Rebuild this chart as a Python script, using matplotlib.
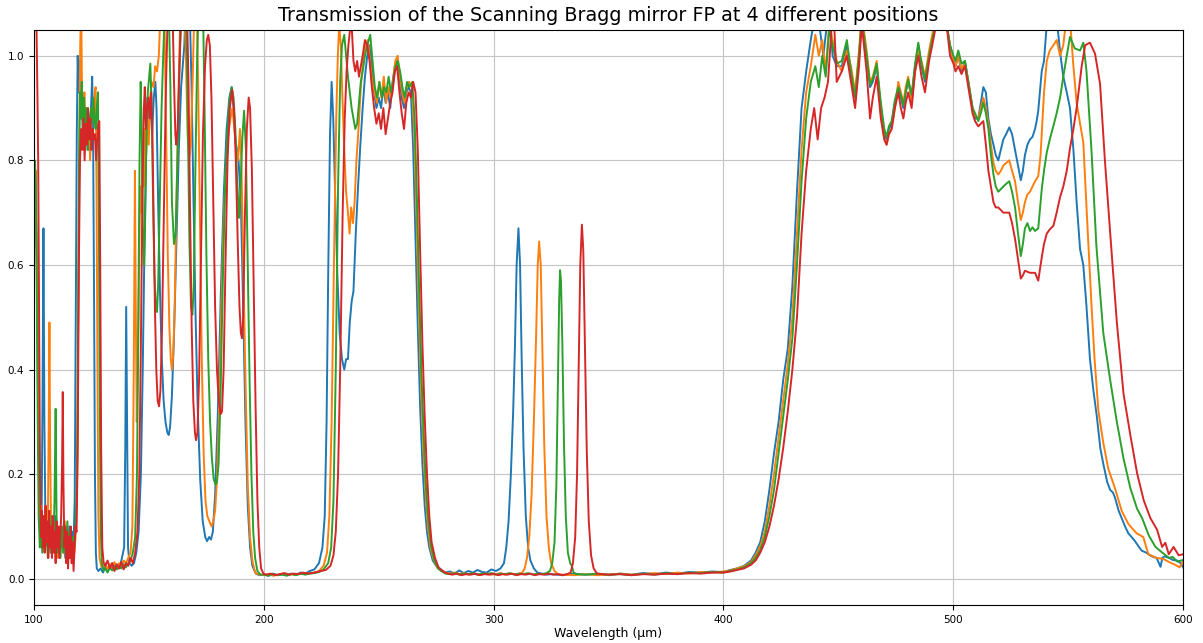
"""Transmission of the scanning Bragg-mirror Fabry-Perot at 4 positions."""
import matplotlib
matplotlib.use("Agg")
import matplotlib.pyplot as plt  # noqa: E402

TITLE = "Transmission of the Scanning Bragg mirror FP at 4 different positions"
XLABEL = "Wavelength (\u03bcm)"

# (wavelength, transmission); >1.05 is clipped by ylim
pos1 = [
    (100.0, 0.74), (100.4, 0.78), (100.8, 0.70), (101.2, 0.62), (101.6, 0.45), (102.0, 0.26),
    (102.4, 0.14), (102.8, 0.10), (103.3, 0.12), (103.7, 0.35), (104.1, 0.67), (104.5, 0.30),
    (104.9, 0.13), (105.4, 0.09), (105.9, 0.12), (106.4, 0.06), (107.0, 0.10), (107.5, 0.05),
    (108.1, 0.11), (108.7, 0.07), (109.3, 0.12), (109.9, 0.05), (110.5, 0.09), (111.1, 0.04),
    (111.8, 0.10), (112.4, 0.06), (113.0, 0.11), (113.6, 0.04), (114.2, 0.08), (114.8, 0.05),
    (115.4, 0.10), (116.0, 0.06), (116.6, 0.09), (117.2, 0.07), (117.7, 0.15), (118.1, 0.45),
    (118.6, 0.85), (119.0, 1.00), (119.4, 0.93), (119.8, 0.99), (120.3, 0.88), (120.8, 0.92),
    (121.3, 0.84), (121.8, 0.90), (122.3, 0.82), (122.8, 0.88), (123.3, 0.86), (123.8, 0.82),
    (124.3, 0.88), (124.8, 0.90), (125.3, 0.96), (125.7, 0.85), (126.1, 0.55), (126.5, 0.20),
    (126.9, 0.05), (127.3, 0.02), (128.0, 0.015), (129.0, 0.02), (130.0, 0.012), (131.0, 0.025),
    (132.0, 0.015), (133.0, 0.02), (134.0, 0.03), (135.0, 0.018), (136.0, 0.022), (137.0, 0.02),
    (138.0, 0.035), (139.2, 0.06), (139.7, 0.25), (140.1, 0.52), (140.5, 0.30), (140.9, 0.06),
    (141.5, 0.03), (142.5, 0.025), (143.5, 0.03), (144.5, 0.05), (145.5, 0.09), (146.5, 0.20),
    (147.3, 0.40), (148.0, 0.62), (148.7, 0.80), (149.3, 0.92), (150.0, 0.88), (150.7, 0.90),
    (151.4, 0.85), (152.1, 0.92), (152.8, 0.95), (153.3, 0.90), (154.0, 0.72), (154.8, 0.55),
    (155.6, 0.42), (156.4, 0.34), (157.2, 0.30), (158.0, 0.28), (158.6, 0.275), (159.2, 0.29),
    (160.0, 0.35), (161.0, 0.48), (162.0, 0.65), (163.0, 0.82), (164.0, 0.94), (164.7, 0.98),
    (165.4, 1.02), (166.0, 1.10), (167.0, 1.12), (167.8, 1.08), (168.5, 0.95), (169.3, 0.75),
    (170.2, 0.52), (171.2, 0.33), (172.3, 0.19), (173.4, 0.11), (174.5, 0.08), (175.3, 0.072),
    (176.2, 0.08), (177.0, 0.075), (177.8, 0.09), (178.8, 0.16), (180.0, 0.32), (181.3, 0.55),
    (182.6, 0.74), (183.8, 0.86), (185.0, 0.92), (186.0, 0.94), (186.8, 0.90), (187.6, 0.84),
    (188.3, 0.82), (189.0, 0.80), (190.0, 0.72), (191.0, 0.52), (192.0, 0.30), (193.0, 0.14),
    (194.0, 0.06), (195.0, 0.025), (196.5, 0.01), (198.0, 0.007), (200.0, 0.008), (202.0, 0.006),
    (204.0, 0.01), (206.0, 0.007), (208.0, 0.009), (210.0, 0.008), (212.0, 0.01), (214.0, 0.008),
    (216.0, 0.012), (218.0, 0.01), (220.0, 0.015), (222.0, 0.018), (224.0, 0.03), (225.5, 0.06),
    (226.5, 0.12), (227.3, 0.30), (228.0, 0.58), (228.8, 0.85), (229.5, 0.95), (230.2, 0.88),
    (231.0, 0.74), (232.0, 0.58), (233.0, 0.47), (234.0, 0.42), (235.0, 0.40), (235.8, 0.42),
    (236.6, 0.42), (237.4, 0.49), (238.2, 0.53), (239.0, 0.55), (240.0, 0.66), (241.0, 0.75),
    (242.0, 0.83), (243.0, 0.90), (244.0, 0.96), (245.0, 1.00), (246.0, 1.02), (247.0, 0.98),
    (248.0, 0.93), (249.0, 0.90), (250.0, 0.92), (251.0, 0.90), (252.0, 0.94), (253.0, 0.91),
    (254.0, 0.93), (255.0, 0.90), (256.0, 0.95), (257.0, 0.98), (258.0, 0.99), (259.0, 0.96),
    (260.0, 0.92), (261.0, 0.90), (262.0, 0.93), (263.0, 0.94), (264.0, 0.93), (265.0, 0.82),
    (266.0, 0.65), (267.0, 0.48), (268.0, 0.33), (269.0, 0.22), (270.0, 0.14), (271.0, 0.09),
    (272.0, 0.06), (273.5, 0.035), (275.0, 0.025), (277.0, 0.018), (279.0, 0.012), (281.0, 0.014),
    (283.0, 0.01), (285.0, 0.016), (287.0, 0.011), (289.0, 0.015), (291.0, 0.012), (293.0, 0.017),
    (295.0, 0.013), (297.0, 0.012), (299.0, 0.018), (301.0, 0.015), (303.0, 0.02), (304.5, 0.03),
    (305.5, 0.06), (306.5, 0.11), (307.5, 0.20), (308.5, 0.32), (309.3, 0.45), (310.0, 0.60),
    (310.8, 0.67), (311.5, 0.60), (312.2, 0.42), (313.0, 0.25), (314.0, 0.12), (315.0, 0.06),
    (316.0, 0.035), (317.5, 0.02), (319.0, 0.012), (321.0, 0.01), (323.0, 0.008), (325.0, 0.009),
    (330.0, 0.007), (335.0, 0.01), (340.0, 0.008), (345.0, 0.009), (350.0, 0.007), (355.0, 0.01),
    (360.0, 0.008), (365.0, 0.011), (370.0, 0.009), (375.0, 0.012), (380.0, 0.01), (385.0, 0.013),
    (390.0, 0.012), (395.0, 0.014), (400.0, 0.013), (403.0, 0.017), (406.0, 0.02), (409.0, 0.025),
    (412.0, 0.035), (414.0, 0.05), (416.0, 0.07), (418.0, 0.11), (420.0, 0.17), (422.0, 0.24),
    (424.0, 0.30), (426.0, 0.38), (428.0, 0.44), (430.0, 0.56), (432.0, 0.74), (434.0, 0.90),
    (436.0, 0.97), (438.0, 1.03), (440.0, 1.08), (442.0, 1.05), (443.5, 1.00), (445.0, 1.06),
    (446.4, 1.07), (447.5, 1.00), (449.3, 0.98), (451.5, 0.98), (453.7, 1.02), (455.5, 0.97),
    (457.3, 0.92), (459.0, 1.00), (460.2, 1.07), (462.3, 1.00), (463.8, 0.94), (465.0, 0.95),
    (466.7, 0.98), (468.5, 0.90), (470.0, 0.85), (471.0, 0.84), (472.0, 0.86), (473.2, 0.87),
    (474.6, 0.91), (476.1, 0.94), (477.2, 0.92), (478.3, 0.90), (479.3, 0.93), (480.4, 0.95),
    (481.9, 0.92), (483.4, 0.98), (484.8, 1.02), (486.2, 0.98), (487.7, 0.95), (489.5, 1.00),
    (491.3, 1.04), (493.0, 1.07), (495.0, 1.09), (497.1, 1.06), (498.6, 1.02), (500.1, 0.99),
    (501.0, 0.98), (502.2, 1.00), (503.6, 0.97), (505.1, 0.99), (506.2, 0.96), (507.3, 0.93),
    (508.4, 0.90), (509.5, 0.88), (510.9, 0.88), (512.0, 0.91), (513.1, 0.94), (514.2, 0.93),
    (515.3, 0.88), (516.4, 0.85), (517.5, 0.83), (518.5, 0.81), (519.6, 0.80), (520.7, 0.82),
    (521.8, 0.84), (523.0, 0.85), (524.4, 0.863), (525.6, 0.85), (526.9, 0.82), (528.2, 0.79),
    (529.4, 0.762), (530.3, 0.78), (531.2, 0.81), (532.3, 0.83), (533.4, 0.84), (534.5, 0.845),
    (535.6, 0.86), (536.3, 0.875), (537.0, 0.895), (538.5, 0.97), (539.5, 0.99), (540.7, 1.06),
    (542.0, 1.10), (544.0, 1.10), (545.5, 1.05), (546.7, 1.00), (547.9, 0.96), (549.4, 0.93),
    (550.8, 0.90), (552.3, 0.82), (553.7, 0.72), (555.2, 0.63), (556.6, 0.60), (558.0, 0.52),
    (559.5, 0.42), (561.0, 0.36), (562.5, 0.31), (564.0, 0.25), (565.3, 0.22), (567.0, 0.185),
    (568.3, 0.17), (569.5, 0.165), (570.4, 0.155), (572.0, 0.13), (573.3, 0.116), (574.8, 0.10),
    (576.2, 0.087), (578.0, 0.078), (579.1, 0.072), (580.5, 0.063), (582.0, 0.054), (584.0, 0.05),
    (586.4, 0.043), (588.5, 0.04), (589.5, 0.03), (590.2, 0.023), (591.0, 0.04), (592.0, 0.043),
    (594.0, 0.04), (595.6, 0.036), (597.5, 0.035), (599.0, 0.03), (600.0, 0.022),
]

pos2 = [
    (100.0, 0.80), (100.4, 0.76), (100.8, 0.78), (101.2, 0.58), (101.6, 0.40), (102.0, 0.22),
    (102.5, 0.12), (103.0, 0.14), (103.6, 0.09), (104.2, 0.12), (104.8, 0.08), (105.4, 0.13),
    (106.0, 0.10), (106.4, 0.30), (106.7, 0.49), (107.0, 0.25), (107.4, 0.10), (108.0, 0.06),
    (108.6, 0.11), (109.2, 0.05), (109.8, 0.09), (110.4, 0.04), (111.0, 0.10), (111.6, 0.06),
    (112.2, 0.09), (112.8, 0.05), (113.4, 0.11), (114.0, 0.04), (114.6, 0.08), (115.2, 0.05),
    (115.8, 0.09), (116.4, 0.03), (117.0, 0.07), (117.6, 0.05), (118.2, 0.09), (118.8, 0.20),
    (119.3, 0.55), (119.7, 0.85), (120.1, 1.02), (120.5, 1.10), (120.9, 0.92), (121.4, 0.88),
    (121.9, 0.93), (122.4, 0.85), (122.9, 0.90), (123.4, 0.84), (123.9, 0.88), (124.4, 0.80),
    (124.9, 0.86), (125.4, 0.90), (125.9, 0.88), (126.4, 0.93), (126.8, 0.94), (127.2, 0.75),
    (127.6, 0.40), (128.0, 0.12), (128.5, 0.04), (129.2, 0.025), (130.0, 0.02), (131.0, 0.03),
    (132.0, 0.018), (133.0, 0.028), (134.0, 0.02), (135.0, 0.032), (136.0, 0.022), (137.0, 0.03),
    (138.0, 0.025), (139.0, 0.035), (140.0, 0.03), (141.0, 0.04), (142.0, 0.05), (142.8, 0.10),
    (143.4, 0.40), (143.9, 0.78), (144.3, 0.50), (144.7, 0.30), (145.2, 0.42), (145.7, 0.60),
    (146.2, 0.75), (146.7, 0.70), (147.2, 0.82), (147.7, 0.75), (148.2, 0.86), (148.7, 0.80),
    (149.3, 0.88), (149.9, 0.83), (150.5, 0.92), (151.2, 0.95), (152.0, 0.94), (152.7, 0.98),
    (153.5, 0.97), (154.3, 1.00), (155.0, 1.08), (156.0, 1.10), (156.8, 1.06), (157.5, 0.85),
    (158.2, 0.62), (158.9, 0.48), (159.5, 0.42), (160.0, 0.40), (160.6, 0.43), (161.2, 0.52),
    (162.0, 0.72), (162.8, 0.92), (163.5, 1.05), (164.2, 1.10), (165.2, 1.10), (166.0, 1.02),
    (166.8, 0.85), (167.5, 0.80), (168.2, 0.83), (169.0, 0.95), (169.8, 1.10), (170.8, 1.10),
    (171.4, 0.95), (172.2, 0.68), (173.0, 0.42), (173.8, 0.24), (174.6, 0.15), (175.4, 0.12),
    (176.3, 0.11), (177.3, 0.10), (178.0, 0.11), (178.8, 0.13), (179.6, 0.19), (180.5, 0.32),
    (181.5, 0.52), (182.5, 0.68), (183.5, 0.79), (184.5, 0.85), (185.5, 0.88), (186.3, 0.90),
    (187.2, 0.86), (188.0, 0.82), (188.8, 0.80), (189.6, 0.86), (190.2, 0.80), (191.0, 0.62),
    (192.0, 0.38), (193.0, 0.18), (194.0, 0.08), (195.0, 0.035), (196.2, 0.012), (198.0, 0.008),
    (200.0, 0.007), (202.0, 0.009), (204.0, 0.006), (206.0, 0.008), (208.0, 0.01), (210.0, 0.007),
    (212.0, 0.009), (214.0, 0.008), (216.0, 0.01), (218.0, 0.009), (220.0, 0.011), (222.0, 0.012),
    (224.0, 0.015), (226.0, 0.025), (227.5, 0.05), (228.5, 0.12), (229.5, 0.30), (230.5, 0.60),
    (231.5, 0.88), (232.2, 1.00), (232.8, 1.06), (233.5, 1.02), (234.2, 0.92), (235.0, 0.82),
    (235.8, 0.74), (236.6, 0.70), (237.3, 0.66), (238.0, 0.71), (238.8, 0.68), (239.5, 0.72),
    (240.3, 0.80), (241.2, 0.86), (242.2, 0.94), (243.2, 0.99), (244.2, 1.02), (245.2, 1.03),
    (246.2, 0.99), (247.2, 0.95), (248.2, 0.93), (249.2, 0.91), (250.2, 0.95), (251.2, 0.92),
    (252.2, 0.96), (253.2, 0.91), (254.2, 0.94), (255.2, 0.92), (256.2, 0.95), (257.2, 0.99),
    (258.2, 1.00), (259.2, 0.96), (260.2, 0.93), (261.2, 0.91), (262.2, 0.94), (263.2, 0.95),
    (264.4, 0.94), (265.4, 0.86), (266.4, 0.70), (267.4, 0.52), (268.4, 0.37), (269.4, 0.25),
    (270.4, 0.16), (271.4, 0.10), (272.5, 0.06), (274.0, 0.035), (275.5, 0.022), (277.0, 0.016),
    (279.0, 0.012), (281.0, 0.01), (283.0, 0.012), (285.0, 0.009), (287.0, 0.011), (289.0, 0.008),
    (291.0, 0.01), (293.0, 0.008), (295.0, 0.009), (297.0, 0.01), (299.0, 0.008), (301.0, 0.009),
    (303.0, 0.011), (305.0, 0.008), (307.0, 0.01), (309.0, 0.009), (311.0, 0.01), (312.5, 0.012),
    (313.5, 0.02), (314.5, 0.04), (315.5, 0.08), (316.5, 0.16), (317.5, 0.30), (318.4, 0.45),
    (319.2, 0.60), (319.8, 0.645), (320.5, 0.60), (321.2, 0.44), (322.0, 0.26), (323.0, 0.12),
    (324.0, 0.06), (325.0, 0.03), (326.5, 0.015), (328.0, 0.009), (330.0, 0.008), (335.0, 0.007),
    (340.0, 0.009), (345.0, 0.007), (350.0, 0.008), (355.0, 0.01), (360.0, 0.008), (365.0, 0.009),
    (370.0, 0.011), (375.0, 0.009), (380.0, 0.012), (385.0, 0.01), (390.0, 0.013), (395.0, 0.012),
    (400.0, 0.014), (403.0, 0.016), (406.0, 0.02), (409.0, 0.024), (412.0, 0.032), (414.0, 0.045),
    (416.0, 0.062), (418.0, 0.09), (420.0, 0.14), (422.0, 0.20), (424.0, 0.27), (426.0, 0.34),
    (428.0, 0.41), (430.0, 0.50), (432.0, 0.66), (434.0, 0.82), (436.0, 0.93), (438.0, 0.98),
    (440.0, 1.04), (441.5, 1.00), (443.0, 1.03), (444.5, 0.97), (446.0, 1.06), (447.5, 1.03),
    (449.3, 0.99), (451.5, 0.97), (453.7, 1.01), (455.5, 0.98), (457.3, 0.93), (459.0, 1.01),
    (460.2, 1.08), (462.3, 1.01), (463.8, 0.95), (465.0, 0.96), (466.7, 0.99), (468.5, 0.89),
    (470.0, 0.84), (471.0, 0.83), (472.0, 0.85), (473.2, 0.86), (474.6, 0.90), (476.1, 0.95),
    (477.2, 0.93), (478.3, 0.91), (479.3, 0.94), (480.4, 0.96), (481.9, 0.91), (483.4, 0.97),
    (484.8, 1.01), (486.2, 0.99), (487.7, 0.96), (489.5, 1.01), (491.3, 1.05), (493.0, 1.08),
    (495.0, 1.09), (497.1, 1.06), (498.6, 1.02), (500.1, 0.99), (501.0, 0.98), (502.2, 1.00),
    (503.6, 0.975), (505.1, 0.985), (506.2, 0.96), (507.3, 0.93), (508.4, 0.90), (509.5, 0.885),
    (510.9, 0.88), (512.0, 0.90), (513.1, 0.92), (514.2, 0.90), (515.3, 0.87), (516.4, 0.83),
    (517.5, 0.795), (518.5, 0.78), (519.6, 0.773), (520.7, 0.78), (521.8, 0.79), (523.0, 0.795),
    (524.4, 0.80), (525.6, 0.78), (526.9, 0.76), (528.2, 0.72), (529.4, 0.686), (530.3, 0.70),
    (531.2, 0.72), (532.3, 0.735), (533.4, 0.74), (534.5, 0.75), (535.6, 0.76), (537.0, 0.77),
    (538.0, 0.81), (538.5, 0.85), (539.5, 0.93), (540.7, 0.99), (542.0, 1.01), (543.6, 1.02),
    (545.0, 1.03), (546.5, 1.00), (547.9, 1.02), (549.4, 1.08), (550.8, 1.07), (552.3, 0.98),
    (553.7, 0.91), (555.2, 0.87), (556.6, 0.835), (558.0, 0.71), (560.2, 0.52), (561.5, 0.42),
    (563.2, 0.32), (565.3, 0.26), (567.5, 0.21), (570.4, 0.173), (573.3, 0.13), (576.2, 0.105),
    (579.8, 0.087), (582.7, 0.08), (584.9, 0.047), (588.5, 0.04), (591.4, 0.038), (594.0, 0.032),
    (596.5, 0.027), (598.5, 0.022), (600.0, 0.033),
]

pos3 = [
    (100.0, 0.78), (100.4, 0.80), (100.8, 0.75), (101.2, 0.55), (101.6, 0.30), (102.0, 0.12),
    (102.5, 0.06), (103.0, 0.09), (103.6, 0.05), (104.2, 0.11), (104.8, 0.06), (105.4, 0.09),
    (106.0, 0.04), (106.6, 0.10), (107.2, 0.05), (107.8, 0.12), (108.4, 0.06), (108.9, 0.15),
    (109.4, 0.325), (109.8, 0.12), (110.3, 0.05), (110.9, 0.09), (111.5, 0.04), (112.1, 0.10),
    (112.7, 0.05), (113.3, 0.08), (113.9, 0.04), (114.5, 0.11), (115.1, 0.05), (115.7, 0.09),
    (116.3, 0.04), (116.9, 0.08), (117.5, 0.06), (118.1, 0.10), (118.7, 0.20), (119.2, 0.50),
    (119.6, 0.80), (120.0, 0.93), (120.4, 0.88), (120.8, 0.95), (121.3, 0.85), (121.8, 0.92),
    (122.3, 0.84), (122.8, 0.90), (123.3, 0.82), (123.8, 0.88), (124.3, 0.85), (124.8, 0.90),
    (125.3, 0.87), (125.8, 0.92), (126.3, 0.88), (126.8, 0.86), (127.3, 0.90), (127.8, 0.93),
    (128.2, 0.70), (128.6, 0.35), (129.0, 0.10), (129.5, 0.03), (130.2, 0.015), (131.0, 0.02),
    (132.0, 0.012), (133.0, 0.022), (134.0, 0.016), (135.0, 0.025), (136.0, 0.018), (137.0, 0.022),
    (138.0, 0.02), (139.0, 0.028), (140.0, 0.022), (141.0, 0.03), (142.0, 0.035), (143.0, 0.05),
    (144.0, 0.08), (144.8, 0.20), (145.4, 0.50), (145.9, 0.80), (146.4, 0.95), (146.9, 0.85),
    (147.4, 0.65), (147.9, 0.60), (148.4, 0.70), (148.9, 0.84), (149.5, 0.93), (150.1, 0.96),
    (150.6, 0.985), (151.2, 0.90), (151.8, 0.72), (152.4, 0.58), (153.0, 0.52), (153.5, 0.51),
    (154.0, 0.56), (154.7, 0.72), (155.5, 0.90), (156.2, 1.00), (157.0, 1.10), (158.5, 1.12),
    (159.3, 0.95), (160.0, 0.72), (160.9, 0.64), (161.6, 0.66), (162.4, 0.80), (163.3, 0.98),
    (164.3, 1.10), (166.0, 1.12), (166.8, 0.92), (167.6, 0.65), (168.3, 0.52), (168.9, 0.505),
    (169.5, 0.56), (170.2, 0.78), (171.0, 1.00), (171.6, 1.10), (173.5, 1.10), (174.2, 0.90),
    (175.0, 0.62), (175.8, 0.42), (176.6, 0.30), (177.4, 0.23), (178.2, 0.19), (179.0, 0.18),
    (179.6, 0.185), (180.3, 0.22), (181.2, 0.36), (182.2, 0.58), (183.2, 0.76), (184.2, 0.86),
    (185.2, 0.92), (186.0, 0.94), (186.8, 0.92), (187.6, 0.86), (188.4, 0.76), (189.2, 0.69),
    (189.8, 0.74), (190.6, 0.84), (191.4, 0.895), (192.2, 0.82), (193.0, 0.60), (193.8, 0.38),
    (194.6, 0.20), (195.4, 0.09), (196.2, 0.04), (197.2, 0.015), (198.5, 0.008), (200.0, 0.008),
    (202.0, 0.006), (204.0, 0.009), (206.0, 0.007), (208.0, 0.008), (210.0, 0.006), (212.0, 0.009),
    (214.0, 0.007), (216.0, 0.01), (218.0, 0.008), (220.0, 0.01), (222.0, 0.011), (224.0, 0.013),
    (226.0, 0.018), (228.0, 0.03), (229.3, 0.06), (230.3, 0.15), (231.3, 0.40), (232.3, 0.75),
    (233.2, 0.95), (234.0, 1.02), (235.0, 1.04), (235.8, 1.00), (236.6, 0.96), (237.4, 0.93),
    (238.2, 0.90), (239.0, 0.88), (239.8, 0.86), (240.6, 0.87), (241.4, 0.91), (242.2, 0.95),
    (243.0, 0.97), (244.0, 1.00), (245.0, 1.02), (246.3, 1.04), (247.3, 0.99), (248.3, 0.94),
    (249.3, 0.92), (250.3, 0.95), (251.3, 0.92), (252.3, 0.94), (253.3, 0.93), (254.3, 0.96),
    (255.3, 0.93), (256.3, 0.95), (257.3, 0.98), (258.3, 0.99), (259.3, 0.97), (260.3, 0.94),
    (261.3, 0.92), (262.3, 0.95), (263.3, 0.94), (264.6, 0.95), (265.6, 0.88), (266.6, 0.73),
    (267.6, 0.55), (268.6, 0.39), (269.6, 0.27), (270.6, 0.17), (271.6, 0.11), (272.7, 0.065),
    (274.2, 0.035), (275.7, 0.02), (277.2, 0.015), (279.0, 0.01), (281.0, 0.009), (283.0, 0.011),
    (285.0, 0.008), (287.0, 0.01), (289.0, 0.009), (291.0, 0.011), (293.0, 0.008), (295.0, 0.01),
    (297.0, 0.009), (299.0, 0.011), (301.0, 0.008), (303.0, 0.01), (305.0, 0.009), (307.0, 0.011),
    (309.0, 0.008), (311.0, 0.01), (313.0, 0.009), (315.0, 0.011), (317.0, 0.008), (319.0, 0.01),
    (321.0, 0.009), (323.0, 0.011), (324.5, 0.015), (325.5, 0.03), (326.5, 0.07), (327.3, 0.18),
    (328.0, 0.38), (328.5, 0.53), (328.9, 0.59), (329.3, 0.57), (329.9, 0.45), (330.6, 0.26),
    (331.4, 0.12), (332.3, 0.05), (333.3, 0.03), (334.0, 0.025), (334.8, 0.012), (336.0, 0.009),
    (340.0, 0.008), (345.0, 0.01), (350.0, 0.008), (355.0, 0.009), (360.0, 0.007), (365.0, 0.01),
    (370.0, 0.008), (375.0, 0.011), (380.0, 0.009), (385.0, 0.012), (390.0, 0.011), (395.0, 0.013),
    (400.0, 0.012), (403.0, 0.015), (406.0, 0.018), (409.0, 0.022), (412.0, 0.03), (414.0, 0.04),
    (416.0, 0.055), (418.0, 0.08), (420.0, 0.12), (422.0, 0.17), (424.0, 0.24), (426.0, 0.31),
    (428.0, 0.38), (430.0, 0.46), (432.0, 0.60), (434.0, 0.76), (436.0, 0.88), (438.0, 0.95),
    (440.0, 0.98), (441.5, 0.94), (443.0, 1.00), (444.5, 0.96), (446.0, 1.05), (447.5, 1.02),
    (449.3, 0.985), (451.5, 0.99), (453.7, 1.03), (455.5, 0.97), (457.3, 0.92), (459.0, 1.00),
    (460.2, 1.07), (462.3, 1.00), (463.8, 0.945), (465.0, 0.955), (466.7, 0.985), (468.5, 0.91),
    (470.0, 0.86), (471.0, 0.845), (472.0, 0.865), (473.2, 0.875), (474.6, 0.915), (476.1, 0.94),
    (477.2, 0.925), (478.3, 0.905), (479.3, 0.93), (480.4, 0.955), (481.9, 0.925), (483.4, 0.985),
    (484.8, 1.025), (486.2, 0.985), (487.7, 0.955), (489.5, 1.00), (491.3, 1.04), (493.0, 1.07),
    (495.0, 1.09), (497.1, 1.06), (498.6, 1.02), (500.1, 1.00), (501.0, 0.99), (502.2, 1.01),
    (503.6, 0.985), (505.1, 0.99), (506.2, 0.96), (507.3, 0.93), (508.4, 0.90), (509.5, 0.89),
    (510.9, 0.875), (512.0, 0.89), (513.1, 0.91), (514.2, 0.89), (515.3, 0.86), (516.4, 0.81),
    (517.5, 0.773), (518.5, 0.75), (519.6, 0.74), (520.7, 0.745), (521.8, 0.75), (523.0, 0.755),
    (524.4, 0.76), (525.6, 0.74), (526.9, 0.71), (528.2, 0.66), (529.4, 0.617), (530.3, 0.64),
    (531.2, 0.67), (532.3, 0.68), (533.4, 0.665), (534.5, 0.672), (535.6, 0.665), (537.0, 0.67),
    (538.5, 0.744), (539.5, 0.78), (540.7, 0.815), (542.0, 0.84), (543.6, 0.866), (545.0, 0.89),
    (546.5, 0.92), (547.9, 0.96), (549.4, 1.00), (550.8, 1.036), (552.9, 1.014), (555.2, 1.01),
    (556.6, 1.025), (558.0, 0.97), (560.2, 0.816), (562.3, 0.636), (565.3, 0.47), (568.3, 0.38),
    (571.2, 0.30), (574.1, 0.23), (577.1, 0.173), (580.0, 0.134), (582.2, 0.116), (585.1, 0.083),
    (588.0, 0.061), (591.0, 0.05), (593.9, 0.04), (595.5, 0.042), (597.5, 0.033), (600.0, 0.036),
]

pos4 = [
    (100.0, 1.10), (100.5, 1.10), (101.0, 1.08), (101.4, 0.95), (101.8, 0.80), (102.2, 0.50),
    (102.6, 0.20), (103.0, 0.08), (103.4, 0.13), (103.8, 0.06), (104.2, 0.12), (104.6, 0.05),
    (105.0, 0.14), (105.4, 0.07), (105.8, 0.11), (106.2, 0.04), (106.6, 0.13), (107.0, 0.06),
    (107.4, 0.10), (107.8, 0.04), (108.2, 0.12), (108.6, 0.05), (109.0, 0.09), (109.4, 0.03),
    (109.8, 0.11), (110.2, 0.06), (110.6, 0.10), (111.0, 0.04), (111.4, 0.08), (111.8, 0.12),
    (112.2, 0.22), (112.5, 0.357), (112.8, 0.18), (113.2, 0.06), (113.6, 0.10), (114.0, 0.03),
    (114.4, 0.09), (114.8, 0.02), (115.2, 0.08), (115.6, 0.04), (116.0, 0.10), (116.4, 0.03),
    (116.8, 0.07), (117.2, 0.015), (117.6, 0.06), (118.0, 0.10), (118.5, 0.09), (119.0, 0.25),
    (119.5, 0.60), (120.0, 0.80), (120.5, 0.86), (121.0, 0.82), (121.5, 0.88), (122.0, 0.80),
    (122.5, 0.87), (123.0, 0.83), (123.5, 0.90), (124.0, 0.84), (124.5, 0.88), (125.0, 0.82),
    (125.5, 0.86), (126.0, 0.84), (126.5, 0.85), (127.0, 0.80), (127.5, 0.84), (128.0, 0.87),
    (128.4, 0.875), (128.8, 0.60), (129.2, 0.25), (129.7, 0.06), (130.3, 0.03), (131.0, 0.025),
    (132.0, 0.035), (133.0, 0.02), (134.0, 0.03), (135.0, 0.015), (136.0, 0.028), (137.0, 0.02),
    (138.0, 0.032), (139.0, 0.018), (140.0, 0.03), (141.0, 0.025), (142.0, 0.04), (143.0, 0.03),
    (144.0, 0.05), (145.0, 0.09), (145.8, 0.20), (146.5, 0.45), (147.2, 0.75), (147.8, 0.90),
    (148.2, 0.94), (148.7, 0.86), (149.2, 0.90), (149.8, 0.92), (150.4, 0.88), (151.0, 0.93),
    (151.5, 0.85), (152.0, 0.70), (152.6, 0.52), (153.2, 0.40), (153.8, 0.34), (154.4, 0.33),
    (155.0, 0.36), (155.7, 0.48), (156.5, 0.70), (157.3, 0.92), (158.0, 1.05), (158.7, 1.10),
    (160.2, 1.10), (160.9, 0.95), (161.5, 0.85), (161.9, 0.83), (162.5, 0.86), (163.3, 0.98),
    (164.0, 1.10), (166.5, 1.10), (167.2, 0.95), (167.9, 0.70), (168.6, 0.48), (169.3, 0.34),
    (170.0, 0.28), (170.5, 0.265), (171.1, 0.28), (171.8, 0.38), (172.6, 0.60), (173.5, 0.85),
    (174.4, 0.98), (175.2, 1.03), (175.8, 1.04), (176.5, 1.02), (177.2, 0.92), (178.0, 0.72),
    (178.8, 0.52), (179.6, 0.40), (180.4, 0.34), (181.2, 0.315), (181.8, 0.32), (182.5, 0.40),
    (183.3, 0.60), (184.2, 0.80), (185.2, 0.90), (186.2, 0.935), (187.0, 0.90), (187.8, 0.80),
    (188.6, 0.65), (189.4, 0.52), (190.0, 0.47), (190.5, 0.46), (191.0, 0.50), (191.8, 0.70),
    (192.6, 0.86), (193.4, 0.92), (194.0, 0.90), (194.8, 0.78), (195.6, 0.56), (196.4, 0.33),
    (197.2, 0.15), (198.0, 0.06), (198.8, 0.02), (199.8, 0.01), (201.0, 0.008), (203.0, 0.01),
    (205.0, 0.007), (207.0, 0.009), (209.0, 0.011), (211.0, 0.008), (213.0, 0.01), (215.0, 0.009),
    (217.0, 0.012), (219.0, 0.01), (221.0, 0.011), (223.0, 0.013), (225.0, 0.015), (227.0, 0.017),
    (229.0, 0.025), (230.3, 0.045), (231.3, 0.09), (232.3, 0.20), (233.3, 0.42), (234.3, 0.70),
    (235.2, 0.88), (236.0, 0.97), (236.8, 1.02), (237.5, 1.05), (238.2, 1.06), (239.0, 0.99),
    (239.8, 0.97), (240.6, 0.99), (241.4, 0.96), (242.2, 0.98), (243.0, 1.00), (244.0, 1.03),
    (245.0, 1.02), (246.0, 0.99), (247.0, 0.94), (248.0, 0.90), (249.0, 0.87), (250.0, 0.89),
    (251.0, 0.86), (252.0, 0.90), (253.0, 0.85), (254.0, 0.88), (255.0, 0.91), (256.0, 0.93),
    (257.0, 0.97), (258.0, 0.98), (259.0, 0.93), (260.0, 0.89), (261.0, 0.86), (262.0, 0.91),
    (263.0, 0.93), (264.0, 0.92), (265.0, 0.95), (266.0, 0.93), (267.0, 0.82), (268.0, 0.63),
    (269.0, 0.45), (270.0, 0.31), (271.0, 0.20), (272.0, 0.12), (273.0, 0.07), (274.5, 0.04),
    (276.0, 0.022), (278.0, 0.014), (280.0, 0.01), (282.0, 0.008), (284.0, 0.01), (286.0, 0.007),
    (288.0, 0.009), (290.0, 0.008), (292.0, 0.01), (294.0, 0.007), (296.0, 0.009), (298.0, 0.008),
    (300.0, 0.01), (302.0, 0.007), (304.0, 0.009), (306.0, 0.008), (308.0, 0.01), (310.0, 0.007),
    (312.0, 0.009), (314.0, 0.008), (316.0, 0.01), (318.0, 0.007), (320.0, 0.009), (322.0, 0.008),
    (324.0, 0.01), (326.0, 0.008), (328.0, 0.009), (330.0, 0.007), (332.0, 0.009), (333.5, 0.012),
    (334.5, 0.03), (335.5, 0.08), (336.3, 0.20), (337.0, 0.40), (337.7, 0.60), (338.4, 0.677),
    (339.0, 0.63), (339.7, 0.45), (340.5, 0.25), (341.4, 0.11), (342.4, 0.045), (343.5, 0.02),
    (345.0, 0.01), (350.0, 0.008), (355.0, 0.009), (360.0, 0.007), (365.0, 0.009), (370.0, 0.008),
    (375.0, 0.01), (380.0, 0.009), (385.0, 0.011), (390.0, 0.01), (395.0, 0.012), (400.0, 0.012),
    (403.0, 0.014), (406.0, 0.017), (409.0, 0.02), (412.0, 0.027), (414.0, 0.035), (416.0, 0.05),
    (418.0, 0.07), (420.0, 0.10), (422.0, 0.14), (424.0, 0.19), (426.0, 0.25), (428.0, 0.32),
    (430.0, 0.40), (432.0, 0.50), (434.0, 0.66), (436.0, 0.78), (438.0, 0.86), (439.5, 0.90),
    (441.0, 0.84), (442.5, 0.90), (444.0, 0.92), (445.5, 0.95), (447.0, 1.05), (448.0, 1.08),
    (449.3, 0.95), (451.5, 0.97), (453.7, 1.00), (455.5, 0.95), (457.3, 0.90), (459.0, 0.98),
    (460.2, 1.06), (462.3, 0.97), (463.8, 0.88), (465.0, 0.92), (466.7, 0.96), (468.5, 0.88),
    (470.0, 0.84), (471.0, 0.83), (472.0, 0.85), (473.2, 0.86), (474.6, 0.90), (476.1, 0.93),
    (477.2, 0.90), (478.3, 0.88), (479.3, 0.91), (480.4, 0.93), (481.9, 0.90), (483.4, 0.97),
    (484.8, 1.00), (486.2, 0.96), (487.7, 0.93), (489.5, 0.99), (491.3, 1.03), (493.0, 1.07),
    (495.0, 1.09), (497.1, 1.06), (498.6, 1.00), (500.1, 0.985), (501.0, 0.97), (502.2, 0.98),
    (503.6, 0.965), (505.1, 0.98), (506.2, 0.95), (507.3, 0.92), (508.4, 0.89), (509.5, 0.875),
    (510.9, 0.865), (512.0, 0.87), (513.1, 0.875), (514.2, 0.83), (515.3, 0.78), (516.4, 0.75),
    (517.5, 0.72), (518.5, 0.71), (519.6, 0.71), (520.7, 0.705), (521.8, 0.70), (523.0, 0.70),
    (524.4, 0.70), (525.6, 0.68), (526.9, 0.65), (528.2, 0.61), (529.4, 0.574), (530.3, 0.58),
    (531.2, 0.589), (532.3, 0.587), (533.4, 0.585), (534.5, 0.585), (535.6, 0.585), (537.0, 0.57),
    (538.5, 0.614), (539.5, 0.64), (540.7, 0.66), (542.0, 0.668), (543.6, 0.675), (545.0, 0.70),
    (546.5, 0.73), (547.9, 0.75), (549.4, 0.78), (550.8, 0.823), (552.3, 0.86), (553.7, 0.90),
    (555.9, 0.98), (557.4, 1.02), (559.5, 1.025), (561.7, 1.004), (563.9, 0.946), (566.0, 0.80),
    (568.3, 0.661), (571.2, 0.49), (574.1, 0.354), (577.1, 0.274), (580.0, 0.202), (582.9, 0.15),
    (585.8, 0.116), (588.7, 0.094), (590.9, 0.061), (592.3, 0.069), (593.8, 0.047), (595.9, 0.061),
    (598.1, 0.045), (600.0, 0.047),
]

series = [pos1, pos2, pos3, pos4]

fig, ax = plt.subplots(figsize=(12.03, 6.43), dpi=100)
fig.subplots_adjust(left=0.0283, right=0.9834, bottom=0.0591, top=0.954)

for pts in series:
    wl, t = zip(*pts)
    ax.plot(wl, t, lw=1.4)

ax.set_xlim(100, 600)
ax.set_ylim(-0.05, 1.05)
ax.grid(True, color="#c4c4c4")
ax.tick_params(labelsize=7.5)
ax.set_xlabel(XLABEL, fontsize=9, labelpad=2)
ax.set_title(TITLE, fontsize=13.8)

fig.savefig("out.png", dpi=100)
